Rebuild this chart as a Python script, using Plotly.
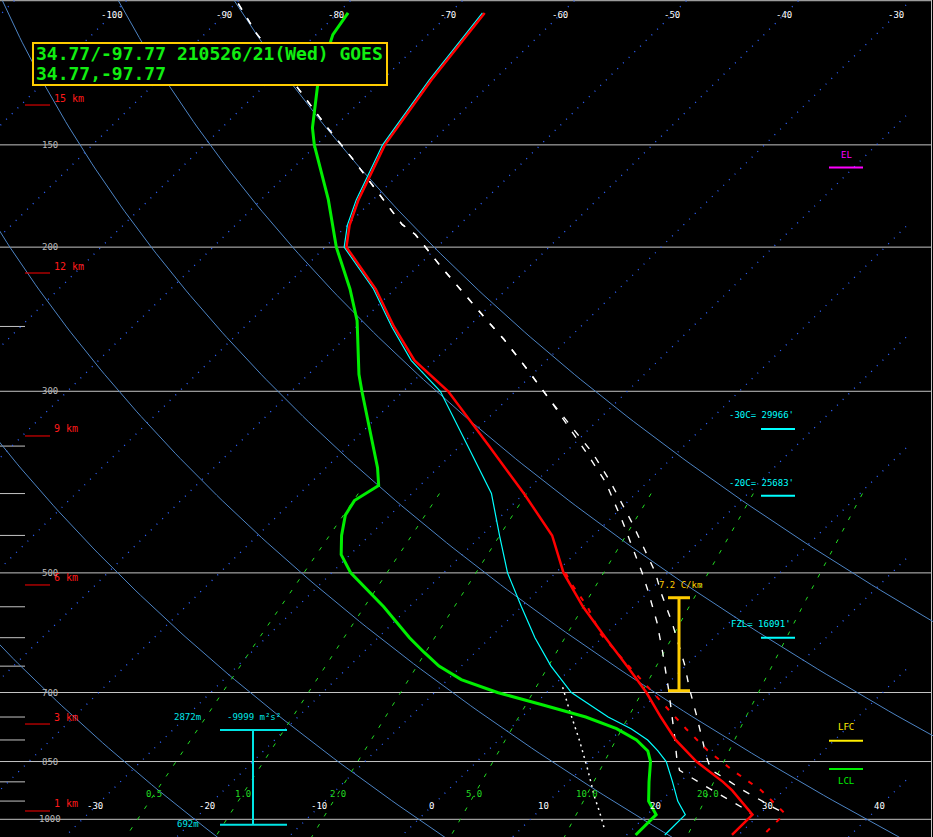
import math
import numpy as np
import plotly.graph_objects as go

# ---------------- data ----------------
# Temperature (red)
temp_p = [103.5, 125, 150, 175, 188, 200, 225, 250, 275, 300, 350, 400, 450, 500,
          550, 600, 650, 700, 750, 800, 850, 900, 922, 968, 987, 1045]
temp_T = [-66.9, -65.6, -63.9, -61.3, -59.8, -58.1, -51.7, -46.7, -41.8, -36.0, -27.4,
          -20.0, -13.7, -9.3, -4.5, 0.3, 4.8, 8.9, 12.4, 15.8, 19.6, 23.8, 25.4, 28.2,
          29.4, 29.4]

# Wet-bulb (cyan)
wb_p = [103.5, 125, 150, 175, 188, 200, 225, 250, 275, 300, 350, 400, 450, 500, 550,
        600, 650, 700, 750, 775, 800, 825, 850, 900, 950, 987, 1045]
wb_T = [-67.1, -65.8, -64.1, -61.5, -60.0, -58.3, -51.9, -46.9, -42.1, -36.7, -29.3,
        -22.9, -18.4, -14.3, -10.0, -6.0, -2.0, 2.2, 7.7, 10.8, 13.3, 15.2, 16.9, 19.3,
        21.5, 23.4, 23.4]

# Dewpoint (green)
td_p = [103.5, 110, 125, 143, 150, 175, 200, 225, 246, 286, 300, 350, 372, 391, 400,
        408, 425, 450, 475, 500, 550, 600, 625, 650, 675, 700, 725, 750, 775, 800, 825,
        850, 900, 950, 987, 1045]
td_T = [-79.1, -78.5, -75.7, -71.9, -70.2, -64.0, -59.0, -54.0, -50.5, -45.5, -43.7,
        -37.8, -35.4, -33.7, -34.1, -34.5, -34.0, -32.5, -30.8, -28.3, -22.3, -17.2,
        -14.6, -12.0, -8.8, -4.4, 0.8, 5.7, 9.5, 12.3, 14.3, 15.5, 17.2, 18.9, 20.8, 20.8]

# Virtual temperature (red dashed)
tv_p = [500, 511, 550, 594, 658, 702, 726, 775, 824, 871, 922, 984, 1040]
tv_T = [-9.1, -8.1, -4.1, -0.45, 5.7, 9.7, 11.7, 15.7, 19.6, 23.6, 28.0, 32.2, 32.2]

# Parcel traces (white dashed)
parcel1_p = [100.8, 109.6, 129, 142.4, 155.6, 170.9, 187.6, 193, 212, 248.5, 259.2, 282,
             308.2, 356.4, 387.7, 433.8, 499.2, 528.1, 574.5, 625, 696, 789.8, 843.2,
             871.4, 917.4, 966, 987]
parcel1_T = [-89.75, -85.44, -76.3, -70.79, -65.67, -60.43, -55.19, -53.09, -47.7,
             -38.27, -35.72, -30.93, -25.98, -18.13, -13.69, -8.56, -2.35, 0.04, 3.5,
             6.71, 10.71, 15.28, 17.59, 18.89, 23.22, 27.71, 29.4]
parcel2_p = [100.8, 109.6, 129, 142.4, 155.6, 170.9, 187.6, 193, 212, 248.5, 259.2, 282,
             308.2, 356.4, 387.7, 433.8, 499.2, 528.1, 550.9, 574.5, 645.7, 692.7, 743,
             789.8, 839.5, 871, 892, 919, 942, 967.6, 984]
parcel2_T = [-89.75, -85.44, -76.3, -70.79, -65.67, -60.43, -55.19, -53.09, -47.7,
             -38.27, -35.72, -30.93, -25.98, -17.6, -13.25, -7.76, -1.16, 1.15, 3.01,
             4.84, 9.7, 12.41, 15.25, 17.66, 20.1, 21.7, 23.74, 26.11, 28.24, 30.65, 32.2]

# Downdraft trace (white dotted)
dd_p = [689.6, 736.2, 801, 871.4, 939.3, 979.7, 1031]
dd_T = [0.94, 3.65, 7.25, 10.71, 13.71, 15.51, 17.61]

# Axis / background definitions
main_levels = [100, 150, 200, 300, 500, 700, 850, 1000]
main_level_labels = ["", "150", "200", "300", "500", "700", "850", "1000"]
minor_levels = [250, 350, 400, 450, 550, 600, 650, 750, 800, 900, 950]
top_tick_T = [-100, -90, -80, -70, -60, -50, -40, -30]
bottom_tick_T = [-30, -20, -10, 0, 10, 20, 30, 40]
isotherm_T = list(range(-120, 60, 10))
dry_adiabat_theta = [-20, 0, 20, 40, 60, 80]
mixing_ratio_w = [0.5, 1.0, 2.0, 5.0, 10.0, 20.0]
mixing_ratio_labels = ["0.5", "1.0", "2.0", "5.0", "10.0", "20.0"]

# Height markers (km) and their pressures
height_km = ["1 km", "3 km", "6 km", "9 km", "12 km", "15 km"]
height_p = [976.9, 764.9, 517.3, 340.2, 215.1, 134.1]

# Derived-level annotations
el_p = 159.9
m30_p, m30_txt = 333.6, "-30C= 29966'"
m20_p, m20_txt = 402.4, "-20C= 25683'"
fzl_p, fzl_txt = 600.0, "FZL= 16091'"
lfc_p = 801.7
lcl_p = 868.1
lapse_top_p, lapse_bot_p, lapse_txt = 536.2, 696.5, "7.2 C/km"
eil_top_p, eil_bot_p = 777.9, 1015.3
eil_top_txt, eil_bot_txt, srh_txt = "2872m", "692m", "-9999 m²s²"

title_line1 = "34.77/-97.77 210526/21(Wed) GOES"
title_line2 = "34.77,-97.77"

# ---------------- geometry helpers ----------------
W, H = 933, 837
K = 32.10                      # skew factor (deg C per ln-pressure unit)
X_RANGE = [-37.366, 45.937]
Y_RANGE = [3.02162, 1.99913]   # log10(p), reversed
X_ISO_MAX = 43.53              # isotherms stop a little short of the right border


def skew(T, p):
    return [t + K * math.log(1000.0 / pp) for t, pp in zip(T, p)]


def lp(p):
    # annotations on a log axis take log10 values
    return math.log10(p)


def px(x):
    return x / W


def py(y):
    return 1 - y / H


def mix_T(w, p):
    e = (w / 1000.0) * p / (0.622 + w / 1000.0)
    a = math.log(e / 6.112)
    return 243.5 * a / (17.67 - a)


fig = go.Figure()

# isotherms (dotted blue)
for T in isotherm_T:
    p_end = 1000.0 * math.exp(-(X_ISO_MAX - T) / K)
    p_top = max(100.0, p_end)
    if p_top >= 1052:
        continue
    pp = [p_top, 1052]
    fig.add_trace(go.Scatter(x=skew([T, T], pp), y=pp, mode="lines",
                             line=dict(color="#2f63ff", width=1.3, dash="1px,7px"),
                             hoverinfo="skip"))

# dry adiabats (solid steel blue)
pgrid = np.geomspace(100, 1052, 160)
for th in dry_adiabat_theta:
    Ts = [(th + 273.15) * (p / 1000.0) ** 0.286 - 273.15 for p in pgrid]
    fig.add_trace(go.Scatter(x=skew(Ts, pgrid), y=pgrid, mode="lines",
                             line=dict(color="#4d84c4", width=1), hoverinfo="skip"))

# mixing ratio lines (green dashed)
pmix = np.geomspace(400, 1052, 40)
for w in mixing_ratio_w:
    Ts = [mix_T(w, p) for p in pmix]
    fig.add_trace(go.Scatter(x=skew(Ts, pmix), y=pmix, mode="lines",
                             line=dict(color="#22dd22", width=1, dash="4px,9px"),
                             hoverinfo="skip"))

# downdraft
fig.add_trace(go.Scatter(x=skew(dd_T, dd_p), y=dd_p, mode="lines",
                         line=dict(color="white", width=1.5, dash="2px,4px")))
# parcels
for pp, tt in [(parcel1_p, parcel1_T), (parcel2_p, parcel2_T)]:
    fig.add_trace(go.Scatter(x=skew(tt, pp), y=pp, mode="lines",
                             line=dict(color="white", width=1.4, dash="7px,10px")))
# virtual temperature
fig.add_trace(go.Scatter(x=skew(tv_T, tv_p), y=tv_p, mode="lines",
                         line=dict(color="#ff0000", width=2, dash="5px,9px")))
# wet bulb
fig.add_trace(go.Scatter(x=skew(wb_T, wb_p), y=wb_p, mode="lines",
                         line=dict(color="#00ffff", width=1.2)))
# dewpoint
fig.add_trace(go.Scatter(x=skew(td_T, td_p), y=td_p, mode="lines",
                         line=dict(color="#00ee00", width=3)))
# temperature
fig.add_trace(go.Scatter(x=skew(temp_T, temp_p), y=temp_p, mode="lines",
                         line=dict(color="#ff0000", width=2.5)))

shapes = []
annotations = []
GRAY = "#c4c4c4"
MONO = "DejaVu Sans Mono"


def hline(p, x0, x1, color, width, layer="above"):
    # shapes on a log axis take raw data values
    shapes.append(dict(type="line", xref="paper", yref="y", x0=px(x0), x1=px(x1),
                       y0=p, y1=p, line=dict(color=color, width=width), layer=layer))


def vline(x, p0, p1, color, width):
    shapes.append(dict(type="line", xref="paper", yref="y", x0=px(x), x1=px(x),
                       y0=p0, y1=p1, line=dict(color=color, width=width), layer="above"))


# pressure lines
for p in main_levels:
    hline(p, 0, 931.5, GRAY, 1, "below")
for p in minor_levels:
    hline(p, 0, 25, GRAY, 1, "below")
shapes.append(dict(type="line", xref="paper", yref="paper", x0=px(931.5), x1=px(931.5),
                   y0=0, y1=1, line=dict(color=GRAY, width=1), layer="below"))

for p, lab in zip(main_levels, main_level_labels):
    if lab:
        annotations.append(dict(xref="paper", yref="y", x=px(50), y=lp(p), text=lab,
                                showarrow=False, font=dict(family=MONO, size=9, color="#b8b8b8"),
                                xanchor="center", yanchor="middle"))

# height markers
for lab, p in zip(height_km, height_p):
    hline(p, 25, 50, "#ff0000", 1)
    annotations.append(dict(xref="paper", yref="y", x=px(52), y=lp(p), yshift=7, text=lab,
                            showarrow=False, font=dict(family=MONO, size=10, color="#ff1a1a"),
                            xanchor="left", yanchor="middle"))

# temperature tick labels
p_top_lab = 104.1
p_bot_lab = 964.6
for T in top_tick_T:
    annotations.append(dict(xref="x", yref="y", x=skew([T], [p_top_lab])[0], y=lp(p_top_lab),
                            text=str(T), showarrow=False,
                            font=dict(family=MONO, size=9, color="white"),
                            xanchor="center", yanchor="middle"))
for T in bottom_tick_T:
    annotations.append(dict(xref="x", yref="y", x=skew([T], [p_bot_lab])[0], y=lp(p_bot_lab),
                            text=str(T), showarrow=False,
                            font=dict(family=MONO, size=9, color="white"),
                            xanchor="center", yanchor="middle"))

# mixing ratio labels
p_mix_lab = 932.0
for w, lab in zip(mixing_ratio_w, mixing_ratio_labels):
    annotations.append(dict(xref="x", yref="y", x=skew([mix_T(w, p_mix_lab)], [p_mix_lab])[0],
                            y=lp(p_mix_lab), text=lab, showarrow=False,
                            font=dict(family=MONO, size=9, color="#22dd22"),
                            xanchor="center", yanchor="middle"))


# right-side level markers
def level_marker(p, x0, x1, color, text, tx, shift, width=2):
    hline(p, x0, x1, color, width)
    annotations.append(dict(xref="paper", yref="y", x=px(tx), y=lp(p), yshift=shift,
                            text=text, showarrow=False,
                            font=dict(family=MONO, size=9, color=color),
                            xanchor="center", yanchor="middle"))


level_marker(el_p, 829, 863, "#ff00ff", "EL", 846, 13)
level_marker(m30_p, 761, 795, "#00ffff", m30_txt, 761, 14)
level_marker(m20_p, 761, 795, "#00ffff", m20_txt, 761, 13)
level_marker(fzl_p, 761, 795, "#00ffff", fzl_txt, 761, 14)
level_marker(lfc_p, 829, 863, "#ffee00", "LFC", 846, 14)
level_marker(lcl_p, 829, 863, "#00ee00", "LCL", 846, -12)

# lapse-rate bracket (yellow)
YEL = "#ffcc00"
vline(679, lapse_top_p, lapse_bot_p, YEL, 3)
for p in [lapse_top_p, lapse_bot_p]:
    hline(p, 668, 690, YEL, 3)
annotations.append(dict(xref="paper", yref="y", x=px(680), y=lp(lapse_top_p), yshift=13,
                        text=lapse_txt, showarrow=False,
                        font=dict(family=MONO, size=9, color=YEL),
                        xanchor="center", yanchor="middle"))

# effective inflow bracket (cyan)
CY = "#00e5e5"
vline(253, eil_top_p, eil_bot_p, CY, 2)
for p in [eil_top_p, eil_bot_p]:
    hline(p, 220, 287, CY, 2)
annotations.append(dict(xref="paper", yref="y", x=px(187.5), y=lp(eil_top_p), yshift=13,
                        text=eil_top_txt, showarrow=False,
                        font=dict(family=MONO, size=9, color=CY), xanchor="center", yanchor="middle"))
annotations.append(dict(xref="paper", yref="y", x=px(254), y=lp(eil_top_p), yshift=13,
                        text=srh_txt, showarrow=False,
                        font=dict(family=MONO, size=9, color=CY), xanchor="center", yanchor="middle"))
annotations.append(dict(xref="paper", yref="y", x=px(188), y=lp(eil_bot_p), yshift=1,
                        text=eil_bot_txt, showarrow=False,
                        font=dict(family=MONO, size=9, color=CY), xanchor="center", yanchor="middle"))

# title box
shapes.append(dict(type="rect", xref="paper", yref="paper", x0=px(33), x1=px(387),
                   y0=py(43), y1=py(85), fillcolor="black",
                   line=dict(color=YEL, width=2), layer="above"))
for txt, yc in [(title_line1, 53.5), (title_line2, 73.5)]:
    annotations.append(dict(xref="paper", yref="paper", x=px(34), y=py(yc), text="<b>" + txt + "</b>",
                            showarrow=False, font=dict(family=MONO, size=18, color="#11ee11"),
                            xanchor="left", yanchor="middle"))

fig.update_layout(
    width=W, height=H, margin=dict(l=0, r=0, t=0, b=0),
    paper_bgcolor="black", plot_bgcolor="black", showlegend=False,
    xaxis=dict(range=X_RANGE, visible=False, showgrid=False, zeroline=False),
    yaxis=dict(type="log", range=Y_RANGE, visible=False, showgrid=False, zeroline=False),
    shapes=shapes, annotations=annotations,
)

fig.write_html("out.html")
